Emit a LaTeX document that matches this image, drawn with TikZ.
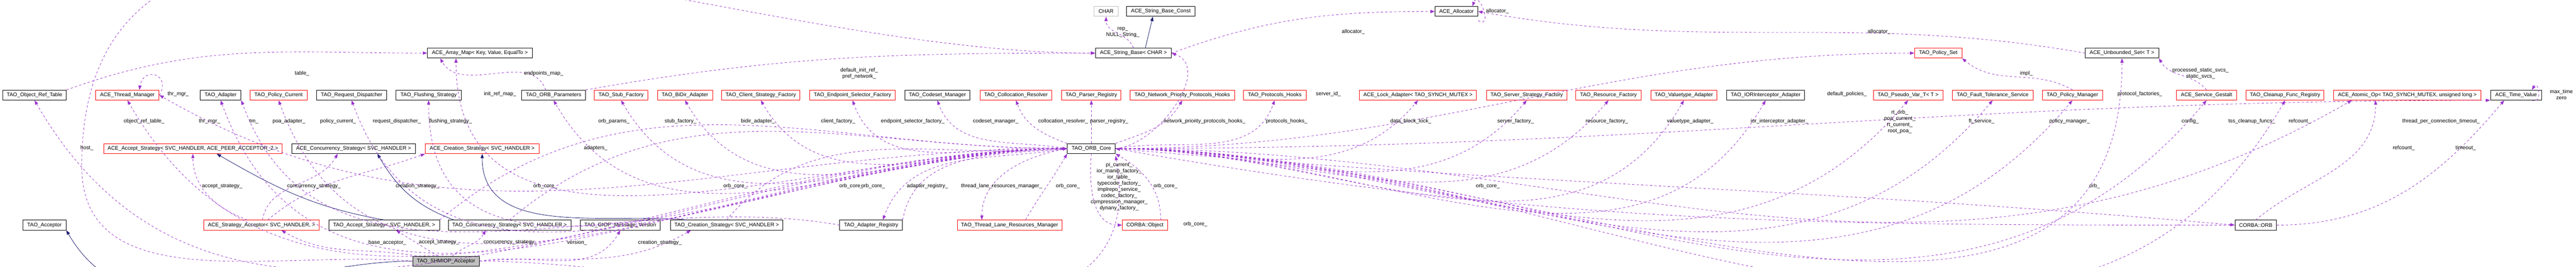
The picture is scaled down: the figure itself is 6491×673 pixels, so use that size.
\documentclass[tikz,border=0pt]{standalone}
\usepackage{fontspec}
\setmainfont{Liberation Sans}
\usepackage{xcolor}
\usetikzlibrary{arrows.meta}
\definecolor{usecol}{HTML}{9A32CD}
\definecolor{inhcol}{HTML}{191970}
\definecolor{graybox}{HTML}{BFBFBF}

\begin{document}
\begin{tikzpicture}[
        x=0.1mm, y=-0.1mm,
        cls/.style={
            rectangle,
            draw=black,
            line width=0.35pt,
            minimum height=2.5mm,
            inner sep=0.4pt,
            font=\fontsize{3.8}{4.2}\selectfont
        },
        redcls/.style={cls, draw=red},
        lbl/.style={
            inner sep=0pt,
            align=center,
            font=\fontsize{3.8}{4.4}\selectfont
        },
        use/.style={
            -{Triangle[length=1.1mm,width=0.8mm]},
            dashed,
            dash pattern=on 1.6pt off 1.6pt,
            line width=0.3pt,
            color=usecol
        },
        inh/.style={
            -{Triangle[length=1.1mm,width=0.8mm]},
            line width=0.3pt,
            color=inhcol
        }
    ]
        \useasboundingbox (0,0) rectangle (6491,673);

        % top row
        \node[cls, draw=graybox, minimum width=6.1mm] (charn) at (2787,29) {CHAR};
        \node[cls, minimum width=17.2mm] (strconst) at (2925,29) {ACE\_String\_Base\_Const};
        \node[cls, minimum width=10.8mm] (allocator) at (3670,29) {ACE\_Allocator};

        % second row
        \node[cls, minimum width=26.4mm] (arraymap) at (1209,134) {ACE\_Array\_Map< Key, Value, EqualTo >};
        \node[cls, minimum width=19.1mm] (strbase) at (2856,134) {ACE\_String\_Base< CHAR >};
        \node[redcls, minimum width=11.9mm] (policyset) at (4884,134) {TAO\_Policy\_Set};
        \node[cls, minimum width=18.5mm] (unbounded) at (5347,134) {ACE\_Unbounded\_Set< T >};

        % third row
        \node[cls, minimum width=16mm] (objref) at (87,240) {TAO\_Object\_Ref\_Table};
        \node[redcls, minimum width=16mm] (thrmgr) at (321,240) {ACE\_Thread\_Manager};
        \node[cls, minimum width=10.3mm] (adapter) at (556,240) {TAO\_Adapter};
        \node[redcls, minimum width=14.4mm] (policycur) at (702,240) {TAO\_Policy\_Current};
        \node[cls, minimum width=17.6mm] (reqdisp) at (886,240) {TAO\_Request\_Dispatcher};
        \node[cls, minimum width=16.4mm] (flushing) at (1080,240) {TAO\_Flushing\_Strategy};
        \node[cls, minimum width=16.1mm] (orbparams) at (1395,240) {TAO\_ORB\_Parameters};
        \node[redcls, minimum width=13.4mm] (stub) at (1565,240) {TAO\_Stub\_Factory};
        \node[redcls, minimum width=13.9mm] (bidir) at (1726,240) {TAO\_BiDir\_Adapter};
        \node[redcls, minimum width=19.8mm] (client) at (1917,240) {TAO\_Client\_Strategy\_Factory};
        \node[redcls, minimum width=21.6mm] (endpoint) at (2148,240) {TAO\_Endpoint\_Selector\_Factory};
        \node[cls, minimum width=16.4mm] (codeset) at (2362,240) {TAO\_Codeset\_Manager};
        \node[redcls, minimum width=18.1mm] (colloc) at (2560,240) {TAO\_Collocation\_Resolver};
        \node[redcls, minimum width=14.9mm] (parser) at (2750,240) {TAO\_Parser\_Registry};
        \node[redcls, minimum width=26.4mm] (netprio) at (2979,240) {TAO\_Network\_Priority\_Protocols\_Hooks};
        \node[redcls, minimum width=15.8mm] (protohooks) at (3212,240) {TAO\_Protocols\_Hooks};
        \node[redcls, minimum width=29.5mm] (lock) at (3573,240) {ACE\_Lock\_Adapter< TAO\_SYNCH\_MUTEX >};
        \node[redcls, minimum width=20.3mm] (serverfac) at (3847,240) {TAO\_Server\_Strategy\_Factory};
        \node[redcls, minimum width=16.4mm] (resource) at (4053,240) {TAO\_Resource\_Factory};
        \node[redcls, minimum width=16.7mm] (valuetype) at (4243,240) {TAO\_Valuetype\_Adapter};
        \node[cls, minimum width=19.7mm] (iorint) at (4449,240) {TAO\_IORInterceptor\_Adapter};
        \node[redcls, minimum width=17.5mm] (pseudo) at (4808,240) {TAO\_Pseudo\_Var\_T< T >};
        \node[redcls, minimum width=20.4mm] (ft) at (5021,240) {TAO\_Fault\_Tolerance\_Service};
        \node[redcls, minimum width=15.2mm] (policymgr) at (5222,240) {TAO\_Policy\_Manager};
        \node[redcls, minimum width=15.1mm] (gestalt) at (5560,240) {ACE\_Service\_Gestalt};
        \node[redcls, minimum width=19.6mm] (cleanup) at (5758,240) {TAO\_Cleanup\_Func\_Registry};
        \node[redcls, minimum width=37.1mm] (atomic) at (6066,240) {ACE\_Atomic\_Op< TAO\_SYNCH\_MUTEX, unsigned long >};
        \node[cls, minimum width=12.9mm] (timeval) at (6340,240) {ACE\_Time\_Value};

        % fourth row
        \node[redcls, minimum width=45mm] (acceptace) at (486,375) {ACE\_Accept\_Strategy< SVC\_HANDLER, ACE\_PEER\_ACCEPTOR\_2 >};
        \node[cls, minimum width=31.2mm] (concace) at (891,375) {ACE\_Concurrency\_Strategy< SVC\_HANDLER >};
        \node[redcls, minimum width=28.7mm] (creatace) at (1215,375) {ACE\_Creation\_Strategy< SVC\_HANDLER >};
        \node[cls, minimum width=12.1mm] (orbcore) at (2750,375) {TAO\_ORB\_Core};

        % fifth row
        \node[cls, minimum width=10.9mm] (acceptor) at (112,568) {TAO\_Acceptor};
        \node[redcls, minimum width=29.1mm] (stratacc) at (659,568) {ACE\_Strategy\_Acceptor< SVC\_HANDLER, >};
        \node[cls, minimum width=27.9mm] (accepttao) at (968,568) {TAO\_Accept\_Strategy< SVC\_HANDLER, >};
        \node[cls, minimum width=30.9mm] (conctao) at (1284,568) {TAO\_Concurrency\_Strategy< SVC\_HANDLER >};
        \node[cls, minimum width=20.2mm] (giop) at (1563,568) {TAO\_GIOP\_Message\_Version};
        \node[cls, minimum width=28.3mm] (creattao) at (1831,568) {TAO\_Creation\_Strategy< SVC\_HANDLER >};
        \node[cls, minimum width=15.8mm] (adapterreg) at (2195,568) {TAO\_Adapter\_Registry};
        \node[redcls, minimum width=26.4mm] (tlrm) at (2544,568) {TAO\_Thread\_Lane\_Resources\_Manager};
        \node[redcls, minimum width=11.4mm] (corbaobj) at (2885,568) {CORBA::Object};
        \node[cls, minimum width=10.5mm] (corbaorb) at (5684,568) {CORBA::ORB};

        % bottom
        \node[cls, fill=graybox, minimum width=16.8mm] (shmiop) at (1124,659) {TAO\_SHMIOP\_Acceptor};

        % inheritance
        \draw[inh] (shmiop.west) to[out=180,in=-60] (acceptor.south east);
        \draw[inh] (accepttao.north) to[out=170,in=-30] ([xshift=6mm]acceptace.south);
        \draw[inh] ([xshift=-14mm]conctao.north) to[out=160,in=-60] ([xshift=6mm]concace.south);
        \draw[inh] ([xshift=-10mm]creattao.north) to[out=175,in=-90] (creatace.south);
        \draw[inh] ([xshift=3mm]strbase.north) -- ([xshift=-2mm]strconst.south);

        % acceptor members
        \draw[use] (shmiop) to[out=170,in=-30] ([xshift=5mm]stratacc.south);
        \draw[use] (shmiop) -- ([xshift=3mm]accepttao.south);
        \draw[use] (shmiop) to[out=40,in=-120] ([xshift=-6mm]conctao.south);
        \draw[use] (shmiop.east) to[out=10,in=-120] (giop.south);
        \draw[use] (shmiop.east) to[out=5,in=-150] ([xshift=-9mm]creattao.south);
        \draw[use] (shmiop.east) to[out=0,in=-80] ([yshift=-0.5mm]orbcore.south east);
        \coordinate (hostbend) at (206,420);
        \draw[use] (shmiop.west) to[out=175,in=-90] (hostbend) to[out=90,in=180] (strbase.west);
        \draw[use] (stratacc) to[out=160,in=-90] (acceptace.south);
        \draw[use] (stratacc) to[out=80,in=-120] ([xshift=-4mm]concace.south);
        \draw[use] (stratacc) to[out=40,in=-160] (creatace.south west);
        \draw[use] (accepttao.north east) to[out=40,in=180] (orbcore.west);
        \draw[use] (conctao.north) to[out=40,in=180] (orbcore.west);
        \draw[use] (creattao.north) to[out=50,in=185] (orbcore.west);
        \draw[use] (adapterreg.north east) to[out=80,in=185] (orbcore.west);
        \draw[use] (orbcore.west) to[out=190,in=70] ([xshift=-5mm]adapterreg.north east);
        \draw[use] (adapterreg.west) to[out=170,in=-70] (adapter.south east);
        \draw[use] (orbcore.west) to[out=190,in=90] ([xshift=-7mm]tlrm.north);
        \draw[use] ([xshift=4mm]tlrm.north) to[out=60,in=-120] (orbcore.south west);
        \draw[use] (orbcore.south) to[out=-95,in=180] (corbaobj.west);
        \draw[use] ([xshift=4mm]corbaobj.north) to[out=90,in=-30] (orbcore.south east);

        % orb core members, left side
        \draw[use] (orbcore.west) to[out=180,in=-60] (objref.south);
        \draw[use] (orbcore.west) to[out=180,in=-60] (thrmgr.south);
        \draw[use] (orbcore.west) to[out=180,in=-30] (thrmgr.east);
        \draw[use] (orbcore.west) to[out=180,in=-70] (adapter.south);
        \draw[use] (orbcore.west) to[out=180,in=-70] (policycur.south);
        \draw[use] (orbcore.west) to[out=180,in=-70] (reqdisp.south);
        \draw[use] (orbcore.west) to[out=180,in=-90] (flushing.south);
        \draw[use] (orbcore.west) to[out=180,in=-90] ([xshift=-6mm]arraymap.south);
        \draw[use] (orbcore.west) to[out=180,in=-60] (orbparams.south);
        \draw[use] (orbcore.west) to[out=180,in=-60] (stub.south);
        \draw[use] (orbcore.west) to[out=180,in=-60] (bidir.south);
        \draw[use] (orbcore.west) to[out=180,in=-60] (client.south);
        \draw[use] (orbcore.west) to[out=175,in=-70] (endpoint.south);
        \draw[use] (orbcore.west) to[out=170,in=-70] (codeset.south);
        \draw[use] (orbcore.north west) to[out=160,in=-70] (colloc.south);
        \draw[use] (orbcore.north) -- (parser.south);
        \draw[use] (orbcore.north east) to[out=20,in=-120] (netprio.south);
        \draw[use] (orbcore.east) to[out=10,in=-110] (protohooks.south);

        % orb core members, right side
        \draw[use] (orbcore.east) to[out=5,in=-20] (strbase.east);
        \draw[use] (orbcore.east) to[out=0,in=-130] (lock.south);
        \draw[use] (orbcore.east) to[out=0,in=-130] (serverfac.south);
        \draw[use] (orbcore.east) to[out=0,in=-130] (resource.south);
        \draw[use] (orbcore.east) to[out=0,in=-120] (valuetype.south);
        \draw[use] (orbcore.east) to[out=0,in=-120] (iorint.south);
        \draw[use] (orbcore.east) to[out=0,in=180] (policyset.west);
        \draw[use] (orbcore.east) to[out=0,in=-130] (pseudo.south);
        \draw[use] (orbcore.east) to[out=0,in=-130] (ft.south);
        \draw[use] (orbcore.east) to[out=0,in=-130] (policymgr.south);
        \draw[use] (orbcore.east) to[out=0,in=-90] (unbounded.south);
        \draw[use] (orbcore.east) to[out=0,in=-130] (gestalt.south);
        \draw[use] (orbcore.east) to[out=0,in=-120] (cleanup.south);
        \draw[use] (orbcore.east) to[out=0,in=-150] ([xshift=-14mm]atomic.south);
        \draw[use] (orbcore.east) to[out=0,in=180] (timeval.south west);
        \draw[use] (orbcore.east) to[out=-5,in=175] (corbaorb.west);
        \draw[use] (corbaorb.west) to[out=180,in=-10] (orbcore.east);
        \draw[use] (corbaorb.north) to[out=40,in=-90] ([xshift=-8mm]atomic.south);
        \draw[use] (corbaorb.east) to[out=0,in=-130] ([xshift=-3mm]timeval.south);

        % other members
        \draw[use] (objref.north east) to[out=20,in=180] (arraymap.west);
        \draw[use] ([xshift=-2mm]orbparams.north) to[out=110,in=-60] ([xshift=-10mm]arraymap.south);
        \draw[use] (orbparams.north east) to[out=10,in=180] (strbase.west);
        \draw[use] (strbase.north) to[out=110,in=-90] (charn.south);
        \draw[use] (strbase.east) to[out=20,in=180] (allocator.west);
        \draw[use] (unbounded.west) to[out=170,in=-10] (allocator.east);
        \draw[use] (policymgr.north) to[out=150,in=-40] (policyset.south east);
        \draw[use] (gestalt.north) to[out=130,in=-60] (unbounded.south east);
        \draw[use] (thrmgr.east) to[out=60,in=80,looseness=3] ([xshift=3mm]thrmgr.north);
        \draw[use] ([yshift=-1mm]allocator.south east) to[out=-30,in=70,looseness=3] ([xshift=4mm]allocator.north);
        \draw[use] ([xshift=4mm]timeval.south) to[out=-20,in=60,looseness=3] ([xshift=4mm]timeval.north);

        % member labels
        \node[lbl] (ltable) at (761,185) {table\_};
        \node[lbl] (lthrself) at (449,237) {thr\_mgr\_};
        \node[lbl] (lobjref) at (363,306) {object\_ref\_table\_};
        \node[lbl] (lthrmgr) at (528,306) {thr\_mgr\_};
        \node[lbl] (ltm) at (640,306) {tm\_};
        \node[lbl] (lpoa) at (728,306) {poa\_adapter\_};
        \node[lbl] (lpolcur) at (852,306) {policy\_current\_};
        \node[lbl] (lreqdisp) at (1000,306) {request\_dispatcher\_};
        \node[lbl] (lflush) at (1135,306) {flushing\_strategy\_};
        \node[lbl] (lhost) at (219,374) {host\_};
        \node[lbl] (lacc1) at (560,470) {accept\_strategy\_};
        \node[lbl] (lconc1) at (791,470) {concurrency\_strategy\_};
        \node[lbl] (lcreat1) at (1052,470) {creation\_strategy\_};
        \node[lbl] (lbase) at (976,612) {base\_acceptor\_};
        \node[lbl] (lacc2) at (1106,612) {accept\_strategy\_};
        \node[lbl] (lconc2) at (1286,612) {concurrency\_strategy\_};
        \node[lbl] (lversion) at (1454,612) {version\_};
        \node[lbl] (lcreat2) at (1663,612) {creation\_strategy\_};
        \node[lbl] (lendmap) at (1370,185) {endpoints\_map\_};
        \node[lbl] (linitref) at (1260,237) {init\_ref\_map\_};
        \node[lbl] (ldefinit) at (2165,185) {default\_init\_ref\_\\pref\_network\_};
        \node[lbl] (lorbparams) at (1547,306) {orb\_params\_};
        \node[lbl] (lstub) at (1715,306) {stub\_factory\_};
        \node[lbl] (lbidir) at (1910,306) {bidir\_adapter\_};
        \node[lbl] (lclient) at (2112,306) {client\_factory\_};
        \node[lbl] (ladapters) at (1501,374) {adapters\_};
        \node[lbl] (lorbc1) at (1374,470) {orb\_core\_};
        \node[lbl] (lorbc2) at (1853,470) {orb\_core\_};
        \node[lbl] (lorbc3) at (2145,470) {orb\_core\_};
        \node[lbl] (lorbc4) at (2200,470) {orb\_core\_};
        \node[lbl] (lrep) at (2829,81) {rep\_\\NULL\_String\_};
        \node[lbl] (lendsel) at (2300,306) {endpoint\_selector\_factory\_};
        \node[lbl] (lcodeset) at (2509,306) {codeset\_manager\_};
        \node[lbl] (lcolloc) at (2679,306) {collocation\_resolver\_};
        \node[lbl] (lparser) at (2795,306) {parser\_registry\_};
        \node[lbl] (lnetprio) at (3035,306) {network\_priority\_protocols\_hooks\_};
        \node[lbl] (lprotoh) at (3242,306) {protocols\_hooks\_};
        \node[lbl] (ladreg) at (2337,470) {adapter\_registry\_};
        \node[lbl] (ltlrm) at (2524,470) {thread\_lane\_resources\_manager\_};
        \node[lbl] (lorbc5) at (2691,470) {orb\_core\_};
        \node[lbl] (lpicur) at (2820,471) {pi\_current\_\\ior\_manip\_factory\_\\ior\_table\_\\typecode\_factory\_\\implrepo\_service\_\\codec\_factory\_\\compression\_manager\_\\dynany\_factory\_};
        \node[lbl] (lorbc6) at (2937,470) {orb\_core\_};
        \node[lbl] (lorbc7) at (3012,566) {orb\_core\_};
        \node[lbl] (lallocself) at (3773,28) {allocator\_};
        \node[lbl] (lalloc1) at (3410,80) {allocator\_};
        \node[lbl] (lserverid) at (3347,237) {server\_id\_};
        \node[lbl] (ldatablock) at (3555,306) {data\_block\_lock\_};
        \node[lbl] (lserverfac) at (3819,306) {server\_factory\_};
        \node[lbl] (lresource) at (4049,306) {resource\_factory\_};
        \node[lbl] (lvaluetype) at (4259,306) {valuetype\_adapter\_};
        \node[lbl] (lorbc8) at (3749,470) {orb\_core\_};
        \node[lbl] (lalloc2) at (4735,80) {allocator\_};
        \node[lbl] (limpl) at (5106,185) {impl\_};
        \node[lbl] (lstatic) at (5545,185) {processed\_static\_svcs\_\\static\_svcs\_};
        \node[lbl] (liorint) at (4484,306) {ior\_interceptor\_adapter\_};
        \node[lbl] (ldefpol) at (4654,237) {default\_policies\_};
        \node[lbl] (lrtorb) at (4787,307) {rt\_orb\_\\poa\_current\_\\rt\_current\_\\root\_poa\_};
        \node[lbl] (lft) at (4993,306) {ft\_service\_};
        \node[lbl] (lpolmgr) at (5215,306) {policy\_manager\_};
        \node[lbl] (lprotofac) at (5392,237) {protocol\_factories\_};
        \node[lbl] (lorb) at (5278,470) {orb\_};
        \node[lbl] (lconfig) at (5519,306) {config\_};
        \node[lbl] (ltss) at (5674,306) {tss\_cleanup\_funcs\_};
        \node[lbl] (lref1) at (5795,306) {refcount\_};
        \node[lbl] (ltpc) at (6151,306) {thread\_per\_connection\_timeout\_};
        \node[lbl] (lref2) at (6057,374) {refcount\_};
        \node[lbl] (ltimeout) at (6213,374) {timeout\_};
        \node[lbl] (lmaxtime) at (6454,239) {max\_time\\zero};
    \end{tikzpicture}
\end{document}
